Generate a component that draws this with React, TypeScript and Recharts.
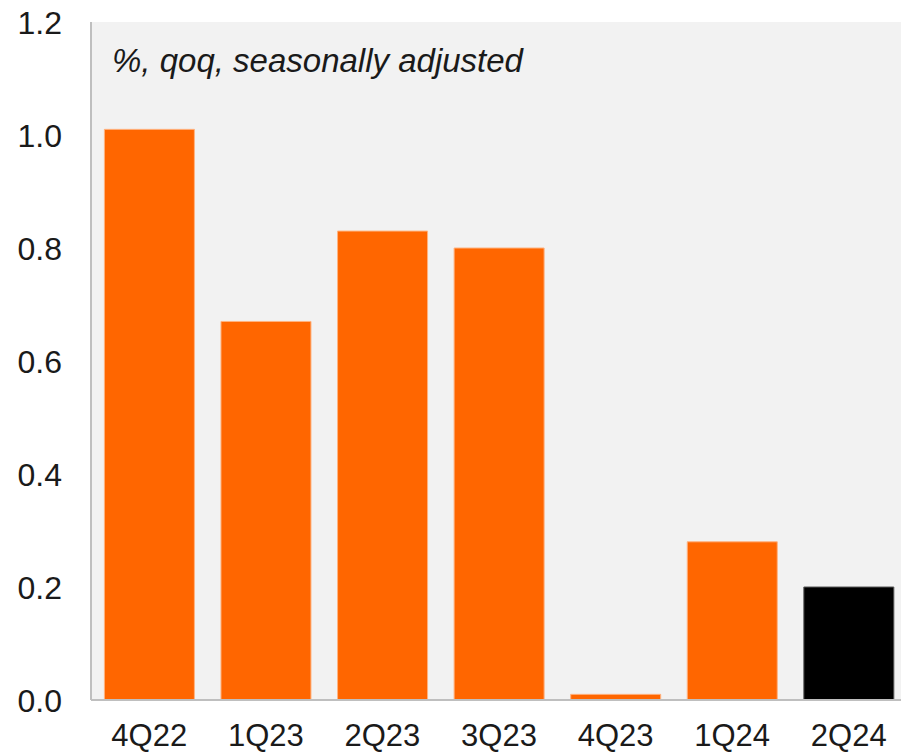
import React from "react";
import { BarChart, Bar, XAxis, YAxis, CartesianGrid, Cell } from "recharts";

const categories = ["4Q22", "1Q23", "2Q23", "3Q23", "4Q23", "1Q24", "2Q24"];
const values = [1.01, 0.67, 0.83, 0.8, 0.01, 0.28, 0.2];
const barColors = ["#ff6600", "#ff6600", "#ff6600", "#ff6600", "#ff6600", "#ff6600", "#000000"];
const yTicks = [0, 0.2, 0.4, 0.6, 0.8, 1.0, 1.2];
const subtitle = "%, qoq, seasonally adjusted";

const data = categories.map((c, i) => ({ name: c, value: values[i] }));

const FONT = "Arial, 'Liberation Sans', Helvetica, sans-serif";

const XTick = (props: any) => {
  const { x, y, payload } = props;
  return (
    <text x={x} y={y} dy={46} textAnchor="middle" fill="#1a1a1a" fontSize={31} fontFamily={FONT}>
      {payload.value}
    </text>
  );
};

const YTick = (props: any) => {
  const { x, y, payload } = props;
  return (
    <text x={x} y={y} dy={11.5} textAnchor="end" fill="#1a1a1a" fontSize={32} fontFamily={FONT}>
      {Number(payload.value).toFixed(1)}
    </text>
  );
};

export default function App() {
  return (
    <div style={{ position: "absolute", left: 0, top: 0, width: 901, height: 755, background: "#fff", overflow: "hidden" }}>
      <BarChart
        width={907}
        height={755}
        data={data}
        margin={{ top: 22, right: 0, left: 0, bottom: 0 }}
        barCategoryGap="11.5%"
      >
        <CartesianGrid fill="#f2f2f2" horizontal={false} vertical={false} stroke="none" />
        <XAxis
          dataKey="name"
          height={55}
          tickLine={false}
          tickSize={0}
          tickMargin={0}
          axisLine={{ stroke: "#bfbfbf", strokeWidth: 2 }}
          tick={<XTick />}
        />
        <YAxis
          width={91}
          domain={[0, 1.2]}
          ticks={yTicks}
          interval={0}
          tickLine={false}
          tickSize={0}
          tickMargin={29}
          axisLine={{ stroke: "#bfbfbf", strokeWidth: 2 }}
          tick={<YTick />}
        />
        <Bar dataKey="value" isAnimationActive={false}>
          {data.map((d, i) => (
            <Cell
              key={d.name}
              fill={barColors[i]}
              stroke={i === 6 ? "#595959" : "#ffb380"}
              strokeWidth={1}
            />
          ))}
        </Bar>
      </BarChart>
      <div
        style={{
          position: "absolute",
          left: 112,
          top: 44,
          fontFamily: FONT,
          fontStyle: "italic",
          fontSize: 33,
          color: "#1a1a1a",
          whiteSpace: "nowrap",
          lineHeight: 1,
        }}
      >
        {subtitle}
      </div>
    </div>
  );
}
